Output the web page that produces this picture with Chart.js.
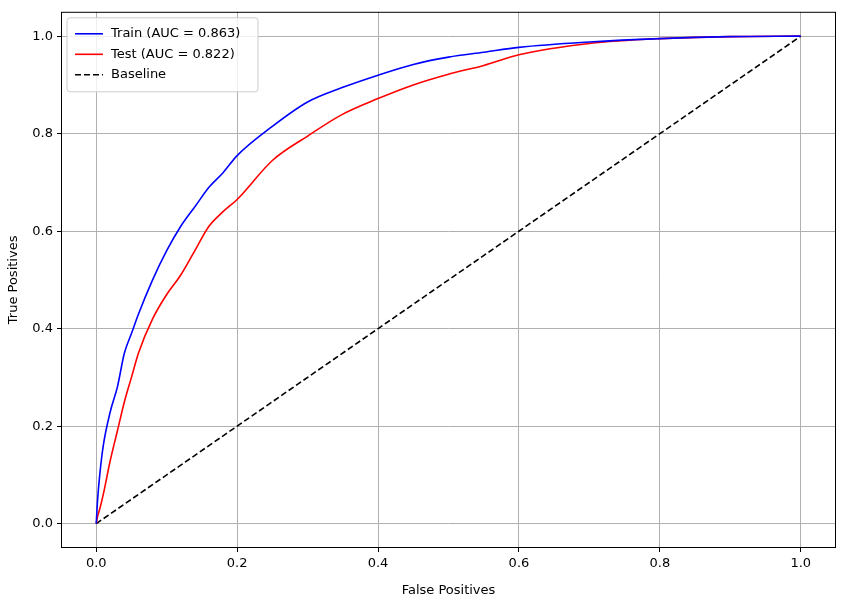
<!DOCTYPE html>
<html><head><meta charset="utf-8">
<script src="https://cdn.jsdelivr.net/npm/chart.js@4"></script>
<style>html,body{margin:0;padding:0;background:#fff}#w{width:846px;height:602px}</style>
</head><body><div id="w"><canvas id="c" width="846" height="602"></canvas></div>
<script>
const trainFpr=[0,0.002,0.005,0.01,0.02,0.03,0.04,0.05,0.06,0.08,0.1,0.12,0.14,0.16,0.18,0.2,0.25,0.3,0.35,0.4,0.45,0.5,0.55,0.6,0.7,0.8,0.9,1];
const trainTpr=[0,0.05,0.1,0.16,0.23,0.28,0.35,0.39,0.43,0.5,0.56,0.61,0.65,0.69,0.72,0.755,0.815,0.865,0.895,0.92,0.942,0.957,0.967,0.977,0.988,0.995,0.999,1];
const testFpr=[0,0.002,0.005,0.01,0.02,0.03,0.04,0.05,0.06,0.08,0.1,0.12,0.14,0.16,0.18,0.2,0.25,0.3,0.35,0.4,0.45,0.5,0.55,0.6,0.7,0.8,0.9,1];
const testTpr=[0,0.015,0.03,0.06,0.13,0.19,0.25,0.3,0.35,0.42,0.47,0.51,0.56,0.61,0.64,0.665,0.745,0.795,0.84,0.872,0.9,0.922,0.94,0.962,0.985,0.995,0.999,1];
const baseX=[0,1], baseY=[0,1];
const tickVals=[0,0.2,0.4,0.6,0.8,1.0];
const labels=['Train (AUC = 0.863)','Test (AUC = 0.822)','Baseline'];
const pts=(xs,ys)=>xs.map((x,i)=>({x,y:ys[i]}));
const F='"DejaVu Sans"';
Chart.defaults.font.family=F; Chart.defaults.font.size=13; Chart.defaults.color='#000';
const frame={id:'frame',afterDraw(c){const a=c.chartArea,x=c.ctx;x.save();x.strokeStyle='#000';x.lineWidth=1;x.strokeRect(a.left+0.5,a.top+0.5,a.right-a.left-1,a.bottom-a.top-1);
const lx=a.left+6,ly=a.top+6,w=191,h=74;x.fillStyle='rgba(255,255,255,0.8)';x.strokeStyle='#ccc';x.beginPath();x.roundRect(lx,ly,w,h,3);x.fill();x.stroke();
const cols=['blue','red','black'];x.font='13px '+F;x.textBaseline='middle';
for(let i=0;i<3;i++){const yy=ly+16+i*20.5;x.strokeStyle=cols[i];x.lineWidth=1.6;x.setLineDash(i==2?[6,3]:[]);x.beginPath();x.moveTo(lx+8,yy);x.lineTo(lx+36,yy);x.stroke();x.setLineDash([]);x.fillStyle='#000';x.fillText(labels[i],lx+44,yy);}
x.restore();}};
new Chart(document.getElementById('c'),{type:'scatter',
data:{datasets:[
{data:pts(trainFpr,trainTpr),showLine:true,borderColor:'blue',borderWidth:1.6,pointRadius:0,cubicInterpolationMode:'monotone'},
{data:pts(testFpr,testTpr),showLine:true,borderColor:'red',borderWidth:1.6,pointRadius:0,cubicInterpolationMode:'monotone'},
{data:pts(baseX,baseY),showLine:true,borderColor:'black',borderWidth:1.6,borderDash:[6,3],pointRadius:0}]},
plugins:[frame],
options:{responsive:false,animation:false,layout:{padding:{top:10,right:10,left:6,bottom:0}},
plugins:{legend:{display:false},tooltip:{enabled:false}},
scales:{
x:{type:'linear',min:-0.05,max:1.05,afterBuildTicks:s=>{s.ticks=tickVals.map(v=>({value:v}))},
ticks:{callback:v=>v.toFixed(1),padding:4,maxRotation:0},grid:{color:'#b0b0b0',tickColor:'#000',tickLength:4},border:{display:false},
title:{display:true,text:'False Positives',padding:{top:0,bottom:4}},afterFit:s=>{s.height=54}},
y:{type:'linear',min:-0.05,max:1.05,afterBuildTicks:s=>{s.ticks=tickVals.map(v=>({value:v}))},
ticks:{callback:v=>v.toFixed(1),padding:4},grid:{color:'#b0b0b0',tickColor:'#000',tickLength:4},border:{display:false},
title:{display:true,text:'True Positives',padding:{top:0,bottom:4}},afterFit:s=>{s.width=55}}}}});
</script></body></html>
